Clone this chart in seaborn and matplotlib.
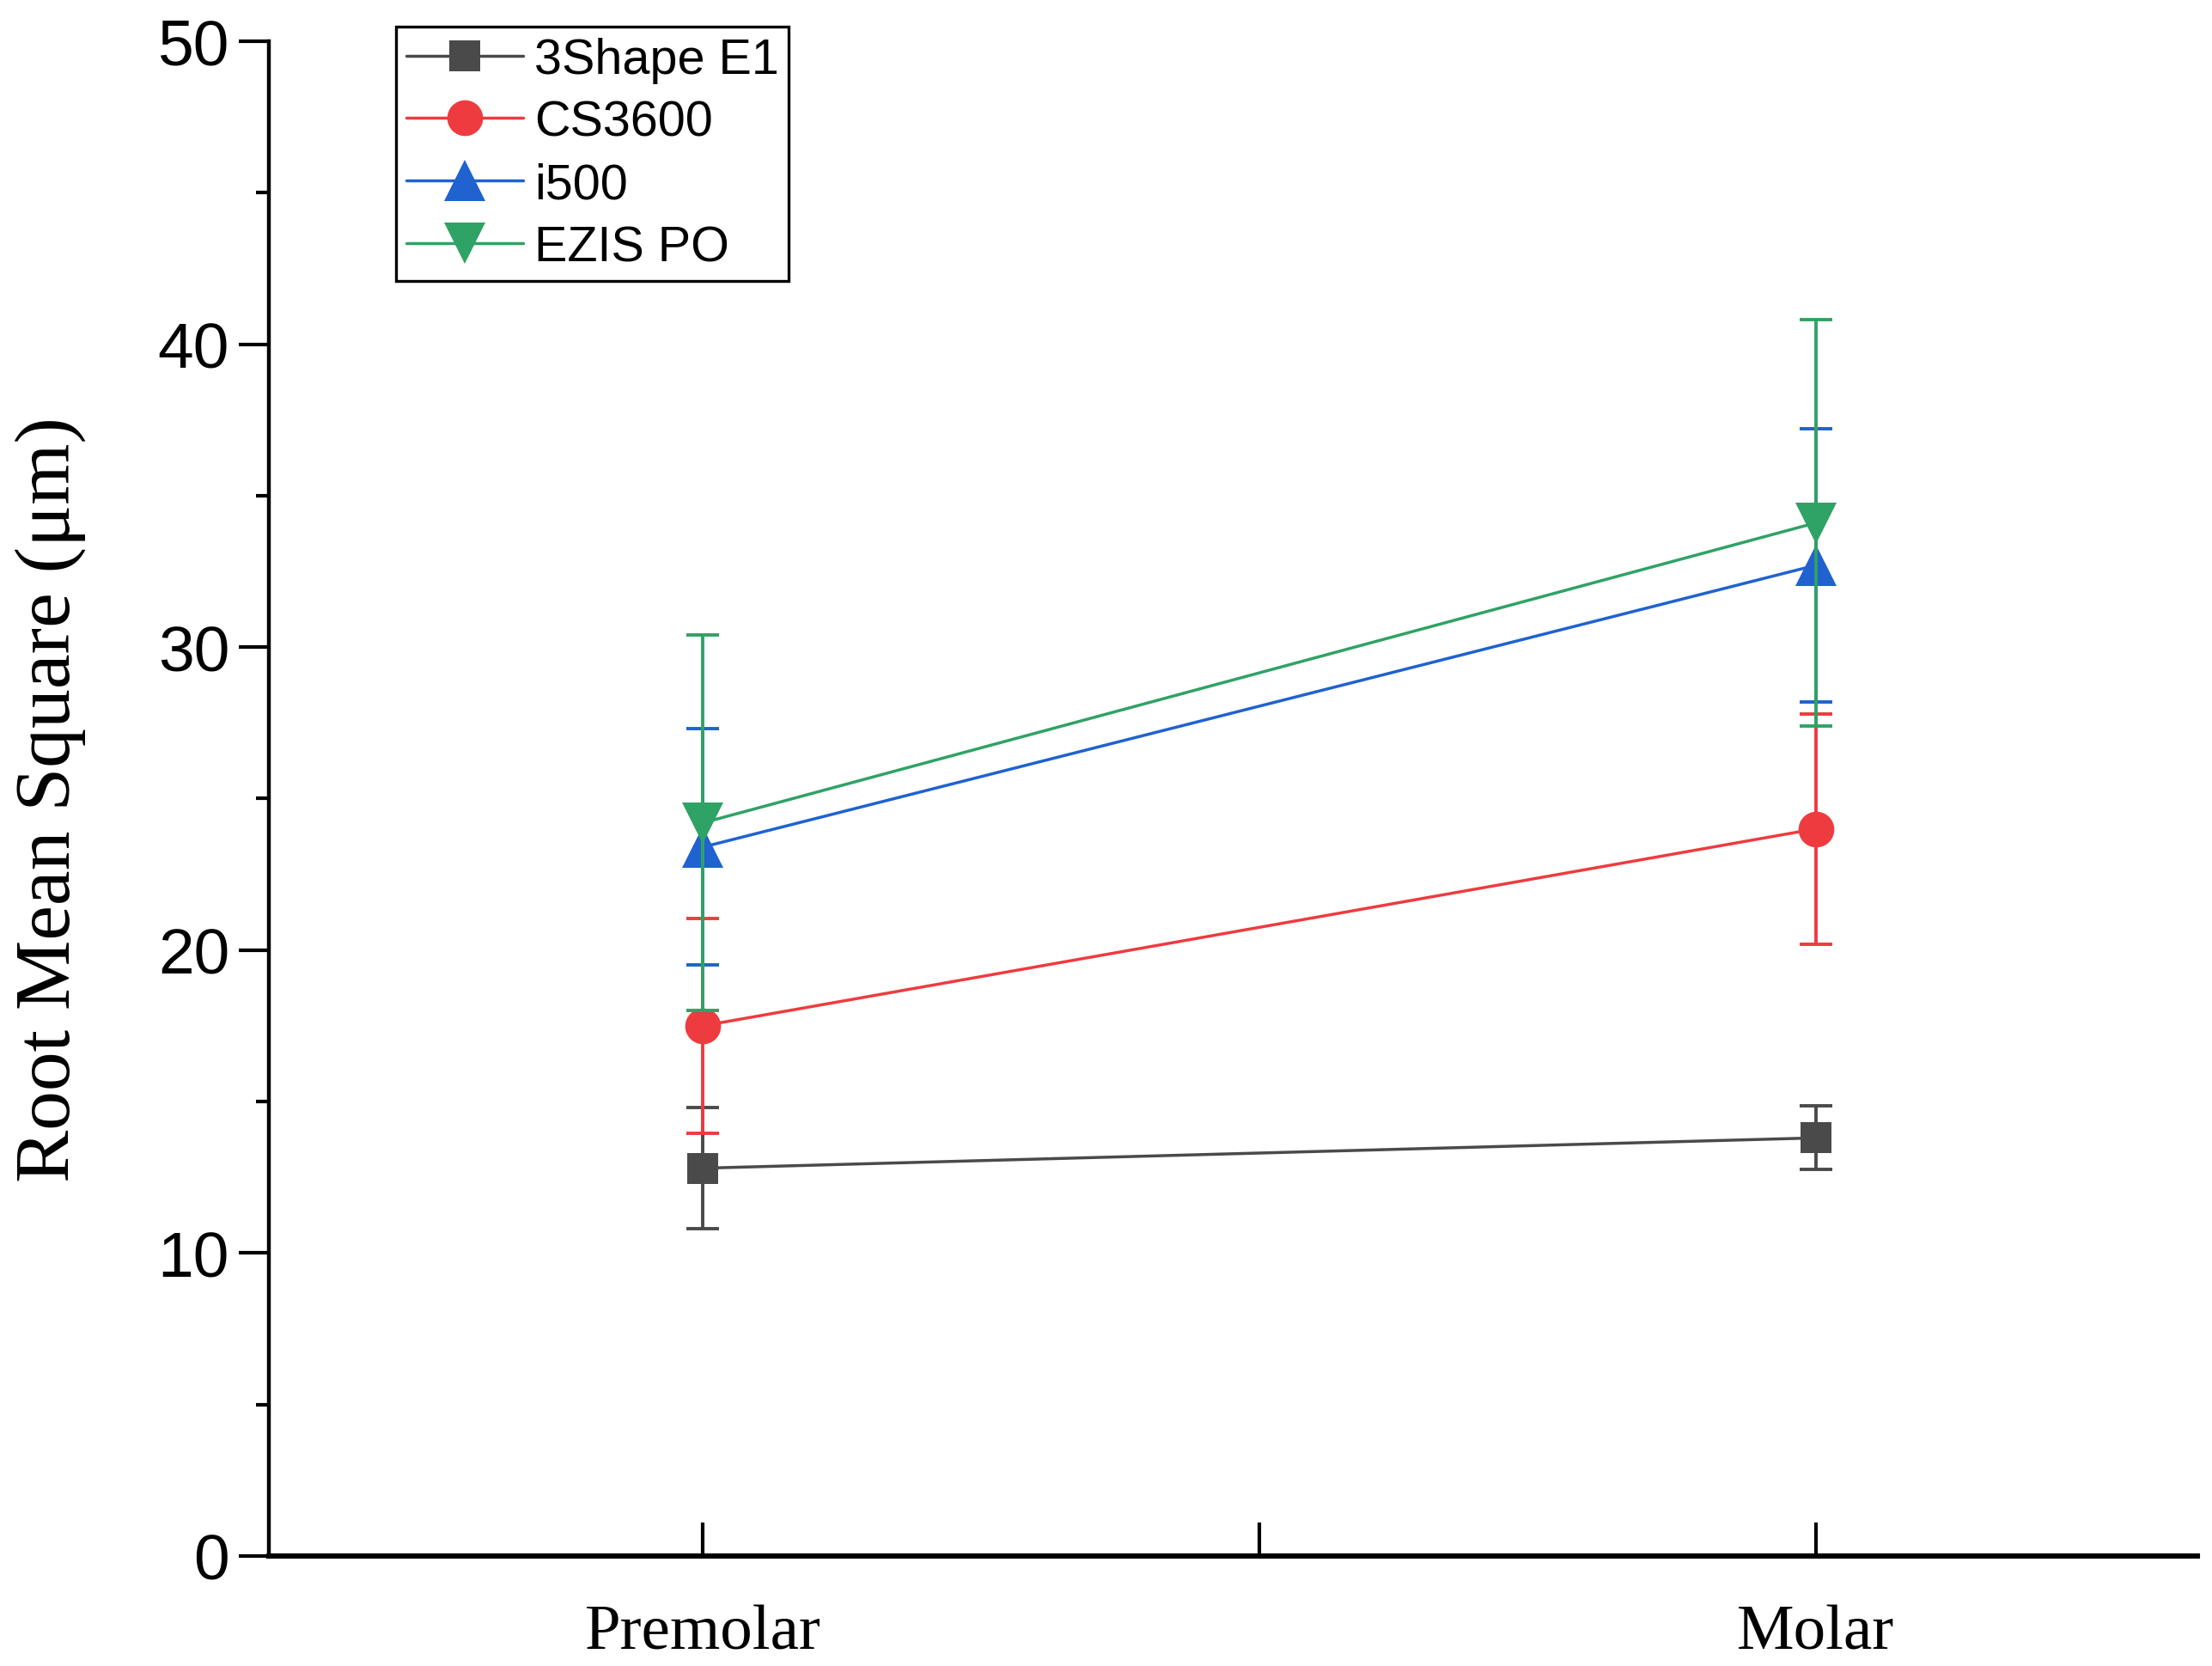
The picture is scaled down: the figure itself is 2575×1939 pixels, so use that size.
import numpy as np
import pandas as pd
import matplotlib
matplotlib.use("Agg")
import matplotlib.pyplot as plt
import seaborn as sns

# ---- data ----
regions = ["Premolar", "Molar"]
region_pos = [1.0, 2.0]
scanners = ["3Shape E1", "CS3600", "i500", "EZIS PO"]
rms_3shape = [12.8, 13.8]
sd_3shape = [2.0, 1.05]
rms_cs3600 = [17.5, 24.0]
sd_cs3600 = [3.55, 3.8]
rms_i500 = [23.4, 32.7]
sd_i500 = [3.9, 4.5]
rms_ezis = [24.2, 34.1]
sd_ezis = [6.2, 6.7]

means = [rms_3shape, rms_cs3600, rms_i500, rms_ezis]
sds = [sd_3shape, sd_cs3600, sd_i500, sd_ezis]

rows = []
for s, m, e in zip(scanners, means, sds):
    for r, p, mv, ev in zip(regions, region_pos, m, e):
        rows.append({"Scanner": s, "Region": r, "pos": p, "RMS": mv, "SD": ev})
df = pd.DataFrame(rows)

colors = {"3Shape E1": "#4a4a4a", "CS3600": "#ee3b3f",
          "i500": "#1f62d0", "EZIS PO": "#2fa265"}
markers = {"3Shape E1": "s", "CS3600": "o", "i500": "^", "EZIS PO": "v"}
msizes = {"3Shape E1": 13, "CS3600": 15, "i500": 17, "EZIS PO": 17}

sns.set_style("ticks")
plt.rcParams["font.family"] = ["Liberation Sans", "DejaVu Sans"]
plt.rcParams["text.color"] = "black"
plt.rcParams["axes.labelcolor"] = "black"
plt.rcParams["xtick.color"] = "black"
plt.rcParams["ytick.color"] = "black"
plt.rcParams["xtick.labelcolor"] = "black"
plt.rcParams["ytick.labelcolor"] = "black"

fig = plt.figure(figsize=(12.875, 9.7), dpi=200)
ax = fig.add_axes([0.1216, 0.066, 0.8718, 0.9088])

sns.lineplot(data=df, x="pos", y="RMS", hue="Scanner", style="Scanner",
             hue_order=scanners, style_order=scanners, palette=colors,
             markers=markers, dashes=False, linewidth=1.25,
             markeredgewidth=0, legend=False, ax=ax, errorbar=None)

lines = list(ax.get_lines())[:4]
for i, (ln, s) in enumerate(zip(lines, scanners)):
    ln.set_markersize(msizes[s])
    ln.set_zorder(3 + 2 * i)
    sub = df[df["Scanner"] == s]
    ax.errorbar(sub["pos"], sub["RMS"], yerr=sub["SD"], fmt="none",
                ecolor=colors[s], elinewidth=1.4, capsize=6.8, capthick=1.4,
                zorder=2 + 2 * i)

ax.set_xlim(0.61, 2.343)
ax.set_ylim(0, 50)
ax.set_xticks([1.0, 1.5, 2.0])
ax.set_xticklabels(["Premolar", "", "Molar"], family="Liberation Serif",
                   fontsize=27, color="black")
ax.set_yticks(np.arange(0, 51, 10))
ax.set_yticks(np.arange(5, 50, 10), minor=True)
ax.tick_params(axis="y", which="major", direction="out", length=12.6,
               width=1.5, labelsize=27, pad=4, color="black",
               labelcolor="black")
ax.tick_params(axis="y", which="minor", direction="out", length=5.4,
               width=1.5, color="black")
ax.tick_params(axis="x", which="major", direction="in", length=14,
               width=1.5, pad=20, color="black")
ax.tick_params(axis="x", which="minor", bottom=False)

ax.set_xlabel("")
ax.set_ylabel("Root Mean Square (μm)", family="Liberation Serif", fontsize=33,
              color="black")
ax.yaxis.set_label_coords(-0.095, 0.5)

sns.despine(ax=ax)
ax.spines["left"].set_linewidth(1.6)
ax.spines["bottom"].set_linewidth(2.2)
ax.spines["left"].set_color("black")
ax.spines["bottom"].set_color("black")

leg = ax.legend(handles=lines, labels=scanners, loc="upper left",
                bbox_to_anchor=(0.066, 1.0095), borderaxespad=0,
                fontsize=20.7, frameon=True, fancybox=False, edgecolor="black",
                framealpha=1, borderpad=0.2, labelspacing=0.33,
                handlelength=2.37, handletextpad=0.22)
leg.get_frame().set_linewidth(1.2)
for t in leg.get_texts():
    t.set_color("black")

fig.savefig("out.png", dpi=200, facecolor="white")
